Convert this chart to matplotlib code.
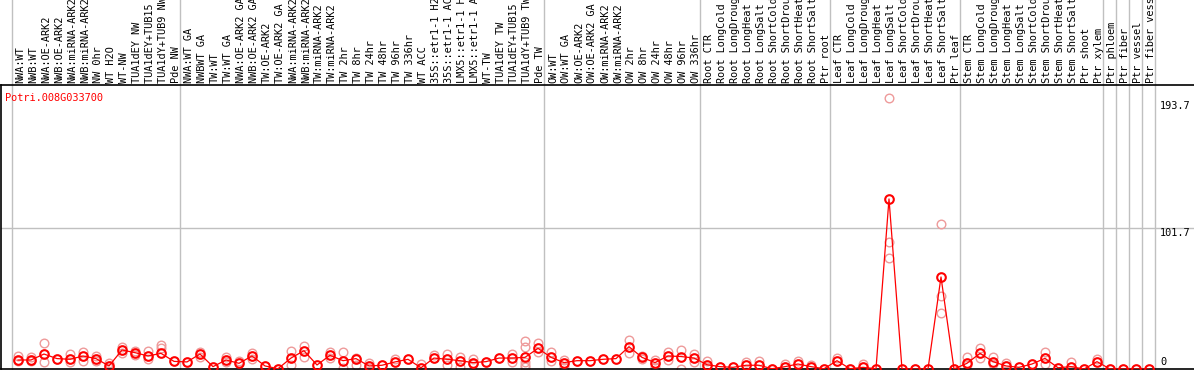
import numpy as np
import matplotlib.pyplot as plt
import matplotlib.transforms as mtransforms

# Sample names, in plotting order
samples = [
    'NWA:WT', 'NWB:WT', 'NWA:OE-ARK2', 'NWB:OE-ARK2', 'NWA:miRNA-ARK2', 'NWB:miRNA-ARK2',
    'NW 0hr', 'WT H2O', 'WT-NW', 'TUA1dEY NW', 'TUA1dEY+TUB15 NW', 'TUA1dY+TUB9 NW', 'Pde NW',
    'NWA:WT GA', 'NWBWT GA', 'TW:WT', 'TW:WT GA', 'NWA:OE-ARK2 GA', 'NWB:OE-ARK2 GA',
    'TW:OE-ARK2', 'TW:OE-ARK2 GA', 'NWA:miRNA-ARK2', 'NWB:miRNA-ARK2', 'TW:miRNA-ARK2',
    'TW:miRNA-ARK2', 'TW 2hr', 'TW 8hr', 'TW 24hr', 'TW 48hr', 'TW 96hr', 'TW 336hr',
    'WT ACC', '35S::etr1-1 H2O', '35S::etr1-1 ACC', 'LMX5::etr1-1 H2O', 'LMX5::etr1-1 ACC',
    'WT-TW', 'TUA1dEY TW', 'TUA1dEY+TUB15 TW', 'TUA1dY+TUB9 TW', 'Pde TW',
    'OW:WT', 'OW:WT GA', 'OW:OE-ARK2', 'OW:OE-ARK2 GA', 'OW:miRNA-ARK2', 'OW:miRNA-ARK2',
    'OW 2hr', 'OW 8hr', 'OW 24hr', 'OW 48hr', 'OW 96hr', 'OW 336hr',
    'Root CTR', 'Root LongCold', 'Root LongDrought', 'Root LongHeat', 'Root LongSalt',
    'Root ShortCold', 'Root ShortDrought', 'Root ShortHeat', 'Root ShortSalt', 'Ptr root',
    'Leaf CTR', 'Leaf LongCold', 'Leaf LongDrought', 'Leaf LongHeat', 'Leaf LongSalt',
    'Leaf ShortCold', 'Leaf ShortDrought', 'Leaf ShortHeat', 'Leaf ShortSalt', 'Ptr leaf',
    'Stem CTR', 'Stem LongCold', 'Stem LongDrought', 'Stem LongHeat', 'Stem LongSalt',
    'Stem ShortCold', 'Stem ShortDrought', 'Stem ShortHeat', 'Stem ShortSalt',
    'Ptr shoot', 'Ptr xylem', 'Ptr phloem', 'Ptr fiber', 'Ptr vessel', 'Ptr fiber vessel',
]

# mean expression per sample
means = [
    6.5, 6.5, 10.8, 7.5, 7.0, 9.4, 7.5, 2.2, 13.7, 11.8, 9.4, 11.3, 5.5,
    5.1, 10.8, 1.7, 6.5, 4.1, 9.4, 2.2, 0.2, 7.9, 13.2, 2.9, 9.9, 6.0, 7.5, 2.2,
    2.7, 5.1, 7.0, 0.9, 7.9, 7.0, 6.0, 4.6, 5.3, 7.9, 7.9, 8.4, 14.9,
    8.4, 4.6, 6.0, 6.0, 7.0, 7.5, 16.1, 8.4, 4.6, 9.4, 9.0, 7.9,
    3.1, 1.7, 1.2, 2.7, 2.7, 0.2, 1.7, 3.6, 1.7, 0.2,
    6.0, 0.2, 1.2, 0.2, 122.7, 0.0, 0.0, 0.0, 66.4, 0.0,
    4.1, 11.3, 5.3, 2.2, 1.2, 3.6, 7.7, 0.9, 1.7, 0.0, 5.3,
    0.0, 0.0, 0.0, 0.0,
]

# individual replicates (sample index, value)
rep_idx = [0, 0, 1, 1, 2, 2, 4, 4, 5, 5, 6, 6, 7, 7, 8, 8, 9, 9, 10, 10, 11, 11,
           14, 14, 16, 16, 17, 18, 18, 21, 21, 22, 22, 24, 24, 25, 25, 26, 26, 27, 27,
           29, 31, 32, 33, 33, 34, 34, 35, 35, 38, 38, 39, 39, 39, 39, 39, 40, 40,
           41, 41, 42, 42, 47, 47, 48, 48, 49, 49, 50, 50, 51, 51, 52, 52, 53, 53,
           56, 57, 59, 60, 61, 63, 65, 67, 67, 67, 71, 71, 71,
           73, 73, 74, 74, 75, 75, 76, 79, 79, 81, 83]
rep_val = [9.4, 5.8, 8.4, 5.8, 19.0, 5.3, 10.8, 4.8, 12.5, 5.8, 9.6, 5.8, 4.6, 0.5,
           16.1, 11.3, 13.2, 10.3, 13.0, 7.0, 17.3, 14.9,
           12.5, 9.0, 8.4, 5.3, 6.0, 11.8, 7.0, 13.2, 2.9, 16.8, 8.4, 12.5, 7.7,
           12.5, 1.0, 8.0, 3.0, 4.6, 1.0,
           7.0, 3.6, 10.3, 10.8, 3.0, 9.0, 1.7, 7.0, 3.6, 10.8, 5.3,
           20.4, 15.6, 5.3, 3.0, 1.2, 18.5, 12.0,
           12.0, 6.0, 6.5, 1.7, 20.9, 11.3, 9.4, 7.0, 6.5, 1.7, 12.0, 6.5, 13.7, 0.0,
           10.8, 4.8, 6.0, 1.7,
           5.1, 6.0, 3.6, 6.0, 2.7, 7.9, 3.6, 195.5, 91.8, 80.0, 104.4, 52.9, 40.2,
           8.4, 2.9, 14.9, 7.7, 9.0, 3.6, 4.6, 12.0, 3.6, 5.3, 7.0]

# group boundaries (index of first sample after the line)
bounds = [0, 13, 41, 53, 63, 73, 84, 85, 86, 87, 88]
yticks = [193.7, 101.7]

font = 'DejaVu Sans Mono'
fs = 7.4
W, H = 1194, 370
fig = plt.figure(figsize=(W / 100, H / 100), dpi=100)
ax = fig.add_axes([1 / W, 1 / H, (W - 1) / W, (369 - 85) / H])

x = np.arange(len(samples))
ax.set_xlim((1 - 18) / 13, (W - 18) / 13)
ax.set_ylim(0, (369 - 85) / 1.386)

# separators, running up through the label strip
top_frac = 369 / (369 - 85)
for b in bounds:
    ax.plot([b - 0.5, b - 0.5], [0, top_frac], color='#c0c0c0', lw=1,
            transform=ax.get_xaxis_transform(), clip_on=False, zorder=0)
ax.axhline(101.7, color='#c0c0c0', lw=1, zorder=0)

ax.plot(rep_idx, rep_val, 'o', ls='none', ms=6.2, mfc='none', mec='#ee9a9a', mew=1.0,
        zorder=2)
ax.plot(x, means, '-', color='red', lw=0.9, zorder=3)
ax.plot(x, means, 'o', ls='none', ms=6.2, mfc='none', mec='red', mew=1.5, zorder=4)

# sample labels above the plot
off = mtransforms.ScaledTranslation(0, 2 / 100, fig.dpi_scale_trans)
for i, s in enumerate(samples):
    ax.text(i + 0.15, 1.0, s, rotation=90, ha='center', va='bottom', fontsize=fs,
            family=font, transform=ax.get_xaxis_transform() + off, clip_on=False)

for v in yticks:
    ax.text((1160 - 18) / 13, v, f'{v:g}', ha='left', va='top', fontsize=fs, family=font)
ax.text((1160 - 18) / 13, 5, '0', ha='left', va='center', fontsize=fs, family=font)

ax.text(-1.0, 0.955, 'Potri.008G033700', color='red', fontsize=fs, family=font,
        transform=ax.get_xaxis_transform(), va='center', ha='left')

ax.set_xticks([])
ax.set_yticks([])
ax.spines['right'].set_visible(False)
for sp in ['left', 'bottom', 'top']:
    ax.spines[sp].set_linewidth(1.2)

fig.savefig('out.png', dpi=100)
